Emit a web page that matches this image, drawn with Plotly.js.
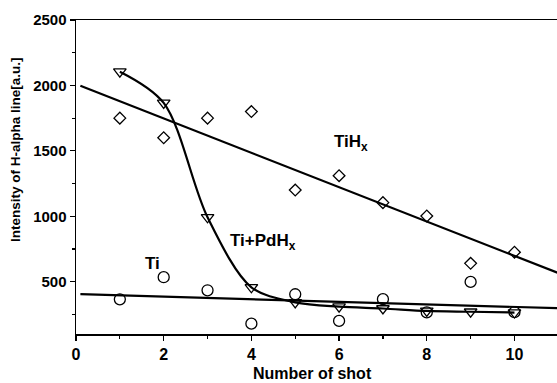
<!DOCTYPE html>
<html><head><meta charset="utf-8">
<script src="https://cdn.plot.ly/plotly-3.0.1.min.js"></script>
<style>html,body{margin:0;padding:0;background:#fff}#chart{width:557px;height:383px}</style>
</head><body><div id="chart"></div>
<script>
// ---- data ----
const shots = [1, 2, 3, 4, 5, 6, 7, 8, 9, 10];
const tihx = [1750, 1600, 1750, 1800, 1200, 1310, 1104, 1002, 640, 725];
const ti = [365, 534, 434, 179, 404, 200, 366, 265, 498, 267];
const tiPdhx = [2105, 1866, 992, 457, 342, 309, 295, 276, 270, 264];
const xTickVals = [0, 2, 4, 6, 8, 10];
const yTickVals = [500, 1000, 1500, 2000, 2500];
const labelTiHx = 'TiH<sub>x</sub>';
const labelTiPd = 'Ti+PdH<sub>x</sub>';
const labelTi = 'Ti';
const xTitle = 'Number of shot';
const yTitle = 'Intensity of H-alpha line[a.u.]';

// ---- linear least-squares fits ----
function linFit(xs, ys) {
  const n = xs.length;
  const mx = xs.reduce((a, b) => a + b, 0) / n;
  const my = ys.reduce((a, b) => a + b, 0) / n;
  let sxy = 0, sxx = 0;
  for (let i = 0; i < n; i++) { sxy += (xs[i] - mx) * (ys[i] - my); sxx += (xs[i] - mx) ** 2; }
  const b = sxy / sxx;
  return x => my + b * (x - mx);
}
const fitTiHx = linFit(shots, tihx);
const fitTi = linFit(shots, ti);
const lineX = [0.1, 11];

const FONT = 'Liberation Sans, Arial, sans-serif';
const mk = (sym, size) => ({ symbol: sym, size: size, color: '#000', line: { color: '#000', width: 1.3 } });

// plot area in pixels (for placing the axis titles)
const PL = 76, PW = 481, PT = 20, PH = 314;
const px2paperX = p => (p - PL) / PW;
const px2paperY = p => (PT + PH - p) / PH;

const traces = [
  { x: lineX, y: lineX.map(fitTiHx), mode: 'lines', line: { color: '#000', width: 2.2 }, hoverinfo: 'skip' },
  { x: lineX, y: lineX.map(fitTi), mode: 'lines', line: { color: '#000', width: 2.2 }, hoverinfo: 'skip' },
  { x: shots, y: tiPdhx, mode: 'lines', line: { color: '#000', width: 2.2, shape: 'spline', smoothing: 0.9 }, hoverinfo: 'skip' },
  { x: shots, y: tihx, mode: 'markers', marker: mk('diamond-open', 9), name: 'TiHx' },
  { x: shots, y: ti, mode: 'markers', marker: mk('circle-open', 11), name: 'Ti' },
  { x: shots, y: tiPdhx, mode: 'markers', marker: mk('triangle-down-open', 11), name: 'Ti+PdHx' }
];

const layout = {
  width: 557, height: 383,
  margin: { l: PL, r: 557 - PL - PW, t: PT, b: 383 - PT - PH },
  paper_bgcolor: '#fff', plot_bgcolor: '#fff',
  showlegend: false,
  font: { family: FONT, color: '#000', weight: 'bold' },
  xaxis: {
    range: [0, 10.97], tickvals: xTickVals, ticktext: xTickVals.map(String),
    ticks: 'outside', ticklen: 5, tickwidth: 1.3, tickcolor: '#000',
    minor: { dtick: 1, ticks: 'outside', ticklen: 3, tickwidth: 1.2, tickcolor: '#000' },
    showgrid: false, zeroline: false, showline: true, linecolor: '#000', linewidth: 1.5, mirror: true,
    tickfont: { family: FONT, size: 16, weight: 'bold' }
  },
  yaxis: {
    range: [100, 2500], tickvals: yTickVals, ticktext: yTickVals.map(String),
    ticks: 'outside', ticklen: 5, tickwidth: 1.3, tickcolor: '#000',
    minor: { dtick: 250, ticks: 'outside', ticklen: 3, tickwidth: 1.2, tickcolor: '#000' },
    showgrid: false, zeroline: false, showline: true, linecolor: '#000', linewidth: 1.5,
    tickfont: { family: FONT, size: 15, weight: 'bold' }
  },
  annotations: [
    { x: px2paperX(312), y: px2paperY(373), xref: 'paper', yref: 'paper', text: xTitle, showarrow: false, xanchor: 'center', yanchor: 'middle', font: { family: FONT, size: 16, weight: 'bold' } },
    { x: px2paperX(15), y: px2paperY(150), xref: 'paper', yref: 'paper', text: yTitle, textangle: -90, showarrow: false, xanchor: 'center', yanchor: 'middle', font: { family: FONT, size: 13.5, weight: 'bold' } },
    { x: 5.84, y: 1560, xref: 'x', yref: 'y', text: labelTiHx, showarrow: false, xanchor: 'left', yanchor: 'middle', font: { family: FONT, size: 17, weight: 'bold' } },
    { x: 3.47, y: 800, xref: 'x', yref: 'y', text: labelTiPd, showarrow: false, xanchor: 'left', yanchor: 'middle', font: { family: FONT, size: 17, weight: 'bold' } },
    { x: 1.53, y: 640, xref: 'x', yref: 'y', text: labelTi, showarrow: false, xanchor: 'left', yanchor: 'middle', font: { family: FONT, size: 17, weight: 'bold' } }
  ]
};
Plotly.newPlot('chart', traces, layout, { displayModeBar: false, staticPlot: true });
</script></body></html>
